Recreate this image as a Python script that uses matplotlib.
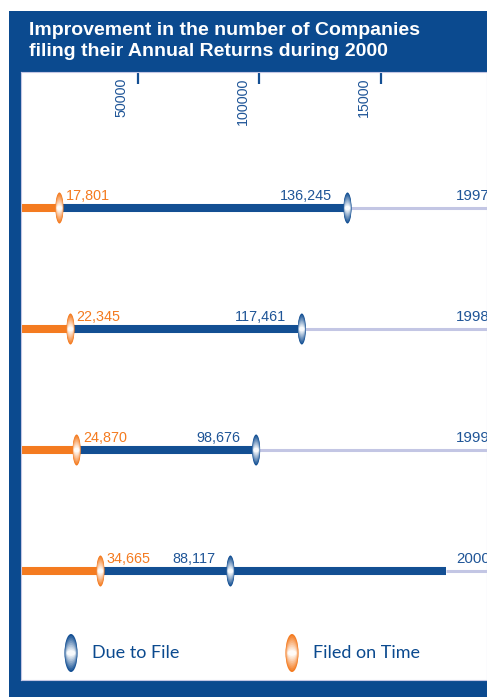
import matplotlib
matplotlib.use("Agg")
import matplotlib.pyplot as plt
from matplotlib.patches import Ellipse, Rectangle
import matplotlib.transforms as mtrans
import numpy as np

# ---------------- data ----------------
years = ["1997", "1998", "1999", "2000"]
filed_on_time = [17801, 22345, 24870, 34665]
due_to_file = [136245, 117461, 98676, 88117]
dark_bar_end = [136245, 117461, 98676, 176800]
tick_values = [50000, 100000, 150000]
tick_labels = ["50000", "100000", "15000"]
title = "Improvement in the number of Companies\nfiling their Annual Returns during 2000"
legend_labels = ["Due to File", "Filed on Time"]

# ---------------- style ----------------
W, H = 487, 697
FRAME = "#0b4a8f"
DARK = "#134f93"
ORANGE = "#f47b20"
LAV = "#c3c6e4"
NUMBLUE = "#1f5597"

fig = plt.figure(figsize=(W / 100, H / 100), dpi=100)
fig.patch.set_facecolor("white")

def fx(px):
    return px / W

def fy(py):
    return 1 - py / H

# blue frame background
fig.add_artist(Rectangle((fx(9), fy(697)), fx(487) - fx(9), fy(11) - fy(697),
                         transform=fig.transFigure, facecolor=FRAME,
                         edgecolor="none", zorder=0))

# plotting area (white)
ax = fig.add_axes([fx(21), fy(680), fx(487) - fx(21), fy(72) - fy(680)])
ax.set_zorder(1)
ax.set_facecolor("white")
for s in ax.spines.values():
    s.set_color(LAV)
    s.set_linewidth(0.8)

ax.set_xlim(2000, 193600)
row_px = 121.0
ax.set_ylim((680 - 208) / row_px, (72 - 208) / row_px)

ax.xaxis.tick_top()
ax.set_xticks(tick_values)
ax.set_xticklabels([])
ax.tick_params(axis="x", direction="in", length=8.6, width=1.6, color=DARK,
               top=True, bottom=False, labeltop=False)
ax.set_yticks([])

for v, lab in zip(tick_values, tick_labels):
    ax.annotate(lab, xy=(v, 1), xycoords=("data", "axes fraction"),
                xytext=(-7, -4), textcoords="offset points",
                rotation=90, ha="right", va="top", fontsize=10.3,
                family="Liberation Sans", color=NUMBLUE)

def gradient_marker(ax, x, y, w_px, h_px, dark, coords=None, steps=10, z=5):
    dark_rgb = np.array(matplotlib.colors.to_rgb(dark))
    for k in range(steps):
        t = k / (steps - 1)
        col = dark_rgb * (1 - 0.97 * t) + np.ones(3) * 0.97 * t
        wf = 1 - 0.35 * t
        hf = 1 - 0.85 * t
        if coords is None:
            off = mtrans.ScaledTranslation(x, y, ax.transData)
        else:
            off = mtrans.ScaledTranslation(x, y, coords)
        e = Ellipse((0, 0), w_px / 100 * wf, h_px / 100 * hf,
                    transform=fig.dpi_scale_trans + off,
                    facecolor=col, edgecolor="none", zorder=z + k * 0.01)
        ax.add_artist(e)

xmin, xmax = ax.get_xlim()
for i, yr in enumerate(years):
    f = filed_on_time[i]
    d = due_to_file[i]
    e = dark_bar_end[i]
    ax.plot([xmin, f], [i, i], color=ORANGE, lw=5.8, solid_capstyle="butt", zorder=2)
    ax.plot([f, e], [i, i], color=DARK, lw=5.8, solid_capstyle="butt", zorder=2)
    ax.plot([e, xmax], [i, i], color=LAV, lw=2.2, solid_capstyle="butt", zorder=1)
    gradient_marker(ax, d, i, 8, 31, DARK)
    gradient_marker(ax, f, i, 8, 31, ORANGE)
    ax.annotate(f"{f:,}", xy=(f, i), xytext=(4.5, 6), textcoords="offset points",
                ha="left", va="baseline", fontsize=10.4, family="Liberation Sans",
                color=ORANGE, zorder=6)
    ax.annotate(f"{d:,}", xy=(d, i), xytext=(-11, 6), textcoords="offset points",
                ha="right", va="baseline", fontsize=10.4, family="Liberation Sans",
                color=NUMBLUE, zorder=6)
    ax.annotate(yr, xy=(0.933, i), xycoords=("axes fraction", "data"),
                xytext=(0, 6), textcoords="offset points",
                ha="left", va="baseline", fontsize=10.8, family="Liberation Sans",
                color=NUMBLUE, annotation_clip=False, zorder=6)

# legend
leg_y = (680 - 653) / 608
leg_items = [(legend_labels[0], DARK, (71 - 21) / 466, (92 - 21) / 466),
             (legend_labels[1], ORANGE, (292 - 21) / 466, (313 - 21) / 466)]
for lab, col, mx, tx in leg_items:
    gradient_marker(ax, mx, leg_y, 13, 38, col, coords=ax.transAxes)
    ax.text(tx, leg_y, lab, transform=ax.transAxes, ha="left", va="center",
            fontsize=13, family="Lato", color=FRAME)

# title
fig.text(fx(29), fy(41), title, ha="left", va="center", fontsize=14,
         fontweight="bold", family="Liberation Sans", color="white",
         linespacing=1.3)

fig.savefig("out.png", dpi=100)
